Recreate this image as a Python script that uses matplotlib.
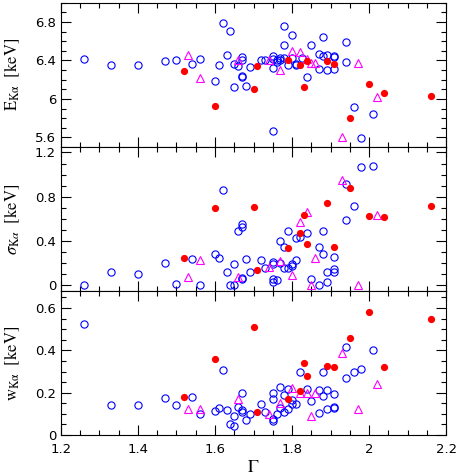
import numpy as np
import matplotlib.pyplot as plt
from matplotlib.ticker import MultipleLocator, FormatStrFormatter

plt.rcParams['mathtext.fontset'] = 'stix'

# filled red circles (same sources in all three panels)
gam_fill = [1.52, 1.60, 1.70, 1.71, 1.79, 1.82, 1.83, 1.84, 1.89, 1.91, 1.95, 2.00, 2.04, 2.16]
E_fill = [6.29, 5.93, 6.10, 6.34, 6.40, 6.35, 6.12, 6.39, 6.39, 6.36, 5.80, 6.15, 6.06, 6.03]
sig_fill = [0.25, 0.70, 0.71, 0.14, 0.34, 0.47, 0.64, 0.37, 0.74, 0.35, 0.88, 0.63, 0.62, 0.72]
w_fill = [0.178, 0.36, 0.51, 0.109, 0.169, 0.208, 0.34, 0.28, 0.328, 0.32, 0.46, 0.58, 0.32, 0.55]

# magenta triangles
gam_tri = [1.53, 1.56, 1.66, 1.74, 1.77, 1.80, 1.82, 1.84, 1.85, 1.86, 1.93, 1.97, 2.02]
E_tri = [6.46, 6.22, 6.40, 6.40, 6.30, 6.50, 6.49, 6.42, 6.37, 6.37, 5.60, 6.37, 6.02]
sig_tri = [0.075, 0.23, 0.075, 0.165, 0.225, 0.09, 0.575, 0.665, 0.005, 0.245, 0.95, 0.005, 0.64]
w_tri = [0.123, 0.123, 0.169, 0.10, 0.15, 0.22, 0.197, 0.20, 0.09, 0.20, 0.388, 0.123, 0.243]

# open blue circles, read per panel
gam_open_E = [1.26, 1.33, 1.40, 1.47, 1.50, 1.54, 1.56, 1.60, 1.61, 1.62,
              1.63, 1.64, 1.65, 1.65, 1.66, 1.67, 1.67, 1.67, 1.67, 1.68,
              1.69, 1.72, 1.73, 1.75, 1.75, 1.75, 1.75, 1.76, 1.76, 1.77,
              1.77, 1.78, 1.78, 1.78, 1.79, 1.80, 1.80, 1.81, 1.81, 1.825,
              1.84, 1.85, 1.87, 1.87, 1.88, 1.88, 1.89, 1.89, 1.91, 1.91,
              1.91, 1.94, 1.94, 1.96, 1.98, 2.01]
E_open = [6.42, 6.35, 6.35, 6.39, 6.40, 6.36, 6.42, 6.19, 6.35, 6.79,
          6.46, 6.71, 6.12, 6.36, 6.34, 6.44, 6.40, 6.24, 6.23, 6.13,
          6.33, 6.40, 6.40, 6.45, 6.42, 6.32, 5.67, 6.40, 6.38, 6.43,
          6.40, 6.76, 6.56, 6.43, 6.35, 6.67, 6.43, 6.35, 6.36, 6.43,
          6.23, 6.56, 6.47, 6.31, 6.64, 6.45, 6.46, 6.30, 6.45, 6.44,
          6.31, 6.59, 6.38, 5.92, 5.59, 5.84]

gam_open_s = [1.26, 1.33, 1.40, 1.47, 1.50, 1.54, 1.56, 1.60, 1.61, 1.62,
              1.63, 1.64, 1.65, 1.65, 1.66, 1.67, 1.67, 1.67, 1.67, 1.68,
              1.69, 1.72, 1.73, 1.75, 1.75, 1.75, 1.75, 1.76, 1.77, 1.77,
              1.78, 1.78, 1.79, 1.79, 1.80, 1.80, 1.81, 1.81, 1.82, 1.84,
              1.85, 1.87, 1.87, 1.88, 1.88, 1.89, 1.89, 1.91, 1.91, 1.91,
              1.94, 1.94, 1.96, 1.98, 2.01]
sig_open = [0.0, 0.12, 0.105, 0.20, 0.01, 0.24, 0.0, 0.28, 0.245, 0.86,
            0.125, 0.005, 0.005, 0.195, 0.49, 0.555, 0.53, 0.07, 0.06, 0.24,
            0.125, 0.23, 0.155, 0.215, 0.195, 0.06, 0.035, 0.05, 0.405, 0.20,
            0.35, 0.16, 0.495, 0.16, 0.195, 0.18, 0.43, 0.23, 0.435, 0.475,
            0.06, 0.35, 0.005, 0.49, 0.28, 0.12, 0.03, 0.255, 0.15, 0.12,
            0.915, 0.59, 0.715, 1.065, 1.077]

gam_open_w = [1.26, 1.33, 1.40, 1.47, 1.50, 1.54, 1.56, 1.60, 1.61, 1.62,
              1.63, 1.64, 1.65, 1.65, 1.66, 1.67, 1.67, 1.67, 1.68, 1.69,
              1.72, 1.73, 1.75, 1.75, 1.75, 1.75, 1.76, 1.77, 1.77, 1.78,
              1.78, 1.79, 1.79, 1.80, 1.80, 1.81, 1.82, 1.84, 1.85, 1.87,
              1.87, 1.88, 1.88, 1.89, 1.89, 1.91, 1.91, 1.91, 1.94, 1.94,
              1.96, 1.98, 2.01]
w_open = [0.524, 0.143, 0.143, 0.176, 0.143, 0.178, 0.098, 0.113, 0.129, 0.308,
          0.118, 0.053, 0.041, 0.09, 0.134, 0.197, 0.118, 0.11, 0.07, 0.098,
          0.148, 0.11, 0.2, 0.17, 0.078, 0.067, 0.10, 0.226, 0.13, 0.19,
          0.11, 0.216, 0.123, 0.165, 0.145, 0.145, 0.30, 0.216, 0.162, 0.211,
          0.105, 0.30, 0.186, 0.211, 0.123, 0.194, 0.134, 0.128, 0.415, 0.268,
          0.30, 0.31, 0.40]

fig, axes = plt.subplots(3, 1, sharex=True, figsize=(4.58, 4.76), dpi=100)
fig.subplots_adjust(left=0.133, right=0.974, top=0.994, bottom=0.086, hspace=0)

panels = [
    (gam_open_E, E_open, E_fill, E_tri, r'$\mathrm{E_{K\alpha}\ \ [keV]}$', (5.5, 7.0), 0.4, 0.1),
    (gam_open_s, sig_open, sig_fill, sig_tri, r'$\sigma_{\mathrm{K}\alpha}\ \ \mathrm{[keV]}$', (-0.05, 1.25), 0.4, 0.1),
    (gam_open_w, w_open, w_fill, w_tri, r'$\mathrm{w_{K\alpha}\ \ [keV]}$', (0.0, 0.68), 0.2, 0.05),
]

for ax, (gx, yo, yf, yt, lab, ylim, maj, mnr) in zip(axes, panels):
    ax.plot(gx, yo, 'o', mfc='none', mec='blue', ms=5.2, mew=0.8)
    ax.plot(gam_tri, yt, '^', mfc='none', mec='magenta', ms=5.5, mew=0.8)
    ax.plot(gam_fill, yf, 'o', color='red', ms=5.2, mew=0)
    ax.set_ylim(*ylim)
    ax.yaxis.set_major_locator(MultipleLocator(maj))
    ax.yaxis.set_minor_locator(MultipleLocator(mnr))
    ax.yaxis.set_major_formatter(FormatStrFormatter('%g'))
    ax.set_ylabel(lab, fontsize=12)
    ax.yaxis.set_label_coords(-0.1, 0.5)
    ax.tick_params(which='both', direction='in', top=True, right=True, labelsize=9.5)
    ax.tick_params(which='major', length=7, width=0.8)
    ax.tick_params(which='minor', length=3.5, width=0.8)
    for s in ax.spines.values():
        s.set_linewidth(0.8)

axes[-1].set_xlim(1.2, 2.2)
axes[-1].xaxis.set_major_locator(MultipleLocator(0.2))
axes[-1].xaxis.set_minor_locator(MultipleLocator(0.05))
axes[-1].xaxis.set_major_formatter(FormatStrFormatter('%g'))
axes[-1].tick_params(axis='x', pad=6)
axes[-1].set_xlabel(r'$\Gamma$', fontsize=13, labelpad=1)

plt.savefig('out.png', dpi=100)
